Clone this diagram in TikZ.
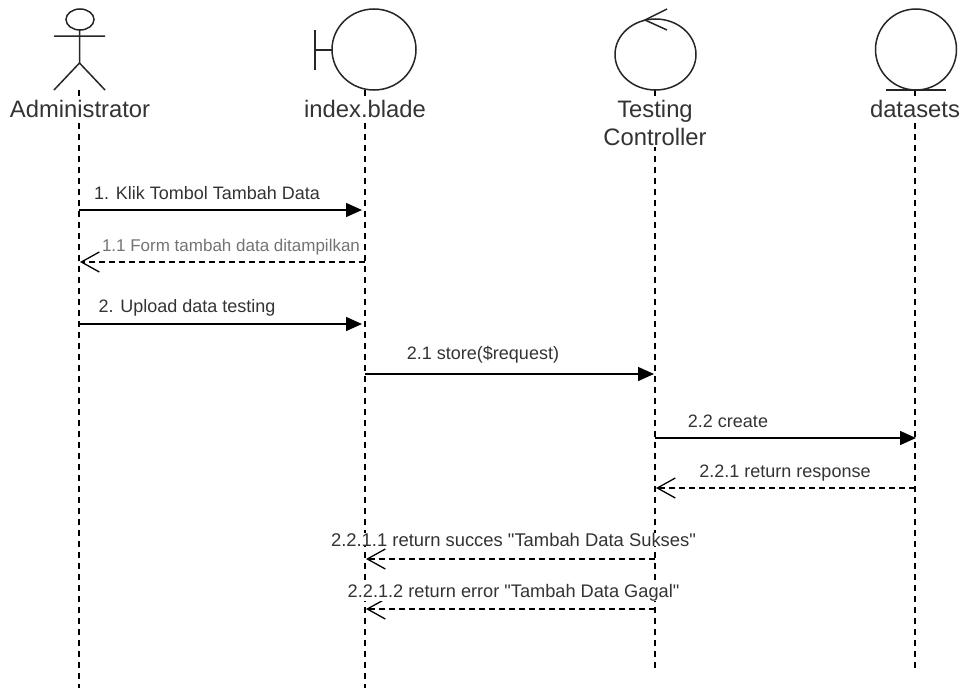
\documentclass[tikz,border=0pt]{standalone}
\usepackage{fontspec}
\setmainfont{Liberation Sans}
\newfontfamily\msgfont{Liberation Sans}
\usetikzlibrary{arrows.meta}
\definecolor{txt}{HTML}{333333}
\tikzset{
  x=1pt,y=-1pt,
  shape line/.style={draw=black!85,line width=1.5pt},
  lifeline/.style={draw=black,line width=1.1pt,dash pattern=on 6pt off 5pt},
  head/.style={text=txt,font=\fontsize{23.8}{28}\selectfont,fill=white,inner sep=1pt,align=center},
  msgtext/.style={text=txt,font=\msgfont\fontsize{18}{21}\selectfont,inner sep=0pt,anchor=base},
  call/.style={draw=black,line width=1.5pt,-{Triangle[length=16pt,width=14pt]}},
  reply/.style={draw=black,line width=1.2pt,dash pattern=on 6pt off 4pt,-{Straight Barb[length=18pt,width=20pt,line width=1.3pt]}},
}
\begin{document}
\begin{tikzpicture}
\useasboundingbox (0,0) rectangle (962,688);
% lifeline ends
\coordinate (at) at (79,90);  \coordinate (ab) at (79,688);
\coordinate (bt) at (365,90); \coordinate (bb) at (365,688);
\coordinate (ct) at (655,90); \coordinate (cb) at (655,672);
\coordinate (dt) at (915,90); \coordinate (db) at (915,672);
\draw[lifeline] (at) -- (ab);
\draw[lifeline] (bt) -- (bb);
\draw[lifeline] (ct) -- (cb);
\draw[lifeline] (dt) -- (db);
% participant labels
\node[head] (la) at (80,109) {Administrator};
\node[head] (lb) at (365,109) {index.blade};
\node[head] (lc) at (655,123) {Testing\\Controller};
\node[head] (ld) at (915,109) {datasets};
% actor
\draw[shape line] (80,19.5) ellipse [x radius=14,y radius=10.5];
\draw[shape line] (79.5,30) -- (79.5,63) (54,36) -- (105,36) (54,90) -- (79.5,63) -- (105,90);
% boundary
\draw[shape line] (374,49.5) ellipse [x radius=42,y radius=40.5];
\draw[shape line] (315,30) -- (315,70) (315,50) -- (332,50);
% control
\draw[shape line] (655.5,54.5) ellipse [x radius=40.5,y radius=35.5];
\draw[shape line] (667,9) -- (645,20) -- (667,30);
% entity
\draw[shape line] (916,49.5) ellipse [x radius=40.5,y radius=40.5];
\draw[shape line] (886,90) -- (946,90);
% messages
\coordinate (m1a) at (79,210);   \coordinate (m1b) at (362,210);
\coordinate (m2a) at (365,262);  \coordinate (m2b) at (80,262);
\coordinate (m3a) at (79,324);   \coordinate (m3b) at (362,324);
\coordinate (m4a) at (365,374);  \coordinate (m4b) at (654,374);
\coordinate (m5a) at (655,438);  \coordinate (m5b) at (916,438);
\coordinate (m6a) at (915,488);  \coordinate (m6b) at (656,488);
\coordinate (m7a) at (655,559);  \coordinate (m7b) at (366,559);
\coordinate (m8a) at (655,609);  \coordinate (m8b) at (366,609);
\draw[call] (m1a) -- (m1b);
\draw[reply] (m2a) -- (m2b);
\draw[call] (m3a) -- (m3b);
\draw[call] (m4a) -- (m4b);
\draw[call] (m5a) -- (m5b);
\draw[reply] (m6a) -- (m6b);
\draw[reply] (m7a) -- (m7b);
\draw[reply] (m8a) -- (m8b);
\node[msgtext] (t1) at (207,199.5) {1. Klik Tombol Tambah Data};
\node[msgtext,text=black!55,font=\msgfont\fontsize{17}{20}\selectfont] (t2) at (231,251) {1.1 Form tambah data ditampilkan};
\node[msgtext] (t3) at (187,312) {2. Upload data testing};
\node[msgtext] (t4) at (483,359.5) {2.1 store(\$request)};
\node[msgtext] (t5) at (728,427.5) {2.2 create};
\node[msgtext] (t6) at (785,477.5) {2.2.1 return response};
\node[msgtext,fill=white,font=\msgfont\fontsize{18.4}{21}\selectfont] (t7) at (513.5,546) {2.2.1.1 return succes "Tambah Data Sukses"};
\node[msgtext,fill=white,font=\msgfont\fontsize{18.2}{21}\selectfont] (t8) at (513.5,597) {2.2.1.2 return error "Tambah Data Gagal"};
\end{tikzpicture}
\end{document}
